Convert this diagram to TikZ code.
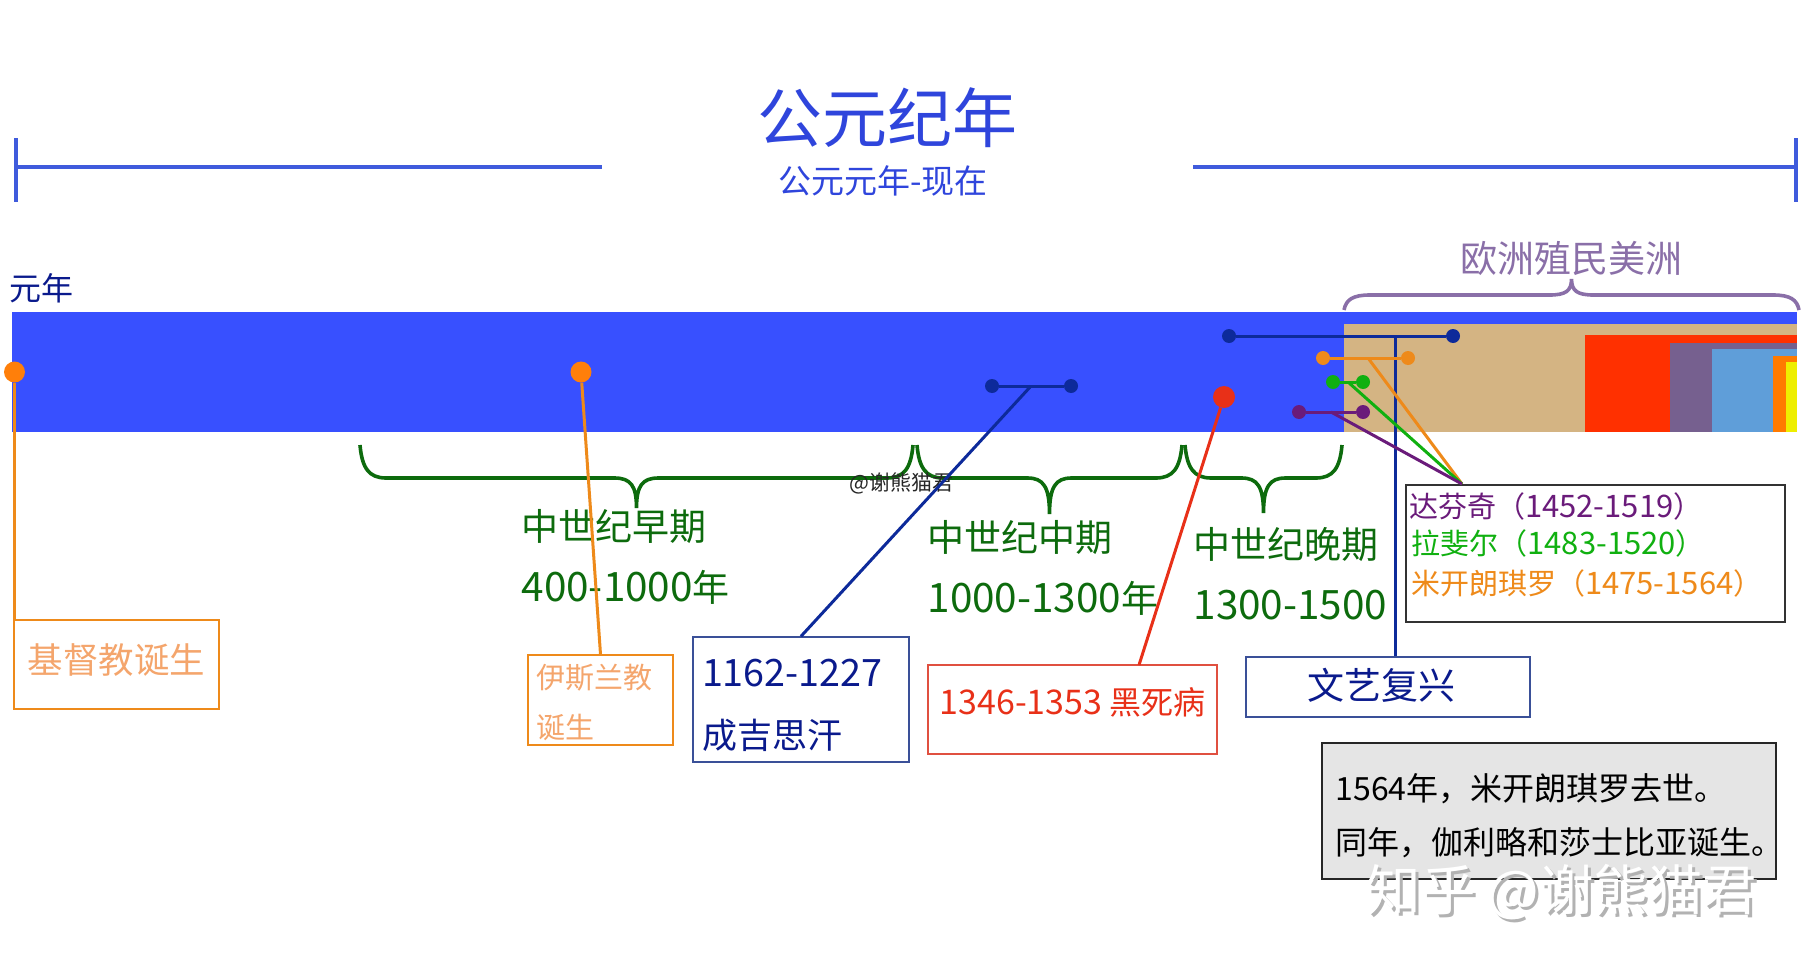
\documentclass[tikz,border=0pt]{standalone}
\usepackage{fontspec}
\setmainfont{Noto Sans CJK SC}
\definecolor{titleblue}{HTML}{2F45DC}
\definecolor{spanblue}{HTML}{3F5BDC}
\definecolor{barblue}{HTML}{3850FF}
\definecolor{navy}{HTML}{0A1A8C}
\definecolor{navybox}{HTML}{3A5098}
\definecolor{dotnavy}{HTML}{0D2A9A}
\definecolor{midgreen}{HTML}{0D6B0D}
\definecolor{leadorange}{HTML}{EE8A1A}
\definecolor{softorange}{HTML}{F4A56C}
\definecolor{dotorange}{HTML}{FF7F0A}
\definecolor{plague}{HTML}{E83018}
\definecolor{plaguebox}{HTML}{E05040}
\definecolor{tanblock}{HTML}{D4B483}
\definecolor{redblock}{HTML}{FF3000}
\definecolor{purpleblock}{HTML}{76608F}
\definecolor{blueblock}{HTML}{5F9ED9}
\definecolor{orangeblock}{HTML}{FF7A00}
\definecolor{yellowblock}{HTML}{EEEE00}
\definecolor{colony}{HTML}{8A6FA8}
\definecolor{vinci}{HTML}{6A1B7A}
\definecolor{raffa}{HTML}{10B010}
\tikzset{
  fs/.style={font=\fontsize{#1}{#1}\selectfont},
  dot/.style={circle,fill=#1,inner sep=0pt,minimum size=14pt},
  lead/.style={draw=#1,line width=3pt},
  era/.style={text=midgreen,anchor=west,align=left,font=\fontsize{37}{61}\selectfont},
  curly/.style={draw=#1,line width=3.6pt},
  span/.style={draw=spanblue,line width=4pt},
  tag/.style={draw=#1,line width=1.4pt,inner sep=0pt},
}
\newcommand{\nums}[2]{{\fontsize{#1}{#1}\selectfont #2}}
% x1, x2, ends, level, tip
\newcommand{\curlybrace}[5]{(#1,#3) .. controls ({#1+2},{#3+(#4-#3)*0.7}) and ({#1+9},#4) .. ({#1+26},#4) -- ({(#1+#2)/2-22},#4) .. controls ({(#1+#2)/2-6},#4) and ({(#1+#2)/2},{#4+(#5-#4)*0.25}) .. ({(#1+#2)/2},#5) .. controls ({(#1+#2)/2},{#4+(#5-#4)*0.25}) and ({(#1+#2)/2+6},#4) .. ({(#1+#2)/2+22},#4) -- ({#2-26},#4) .. controls ({#2-9},#4) and ({#2-2},{#3+(#4-#3)*0.7}) .. (#2,#3)}
\begin{document}
\begin{tikzpicture}[x=1pt,y=-1pt]
\useasboundingbox (0,0) rectangle (1803,966);

\node[fs=65,text=titleblue] (title) at (887,118) {公元纪年};
\node[fs=33,text=titleblue] (subtitle) at (883,181) {公元元年-现在};
\coordinate (spanl) at (15.5,167);
\coordinate (spanr) at (1796,167);
\coordinate (spanlend) at (602,167);
\coordinate (spanrstart) at (1193,167);
\draw[span] (spanl) -- (spanlend);
\draw[span] (spanrstart) -- (spanr);
\draw[span] (15.5,138) -- (15.5,202);
\draw[span] (1796,138) -- (1796,202);

\node[fs=32,text=navy,anchor=west] (yuannian) at (6,288) {元年};

\fill[barblue] (11.5,312) rectangle (1797,432);
\fill[tanblock] (1344,324) rectangle (1797,432);
\fill[redblock] (1585,335) rectangle (1797,432);
\fill[purpleblock] (1670,343) rectangle (1797,432);
\fill[blueblock] (1712,349) rectangle (1797,432);
\fill[orangeblock] (1773,356) rectangle (1797,432);
\fill[yellowblock] (1786,362) rectangle (1797,432);

\node[fs=37,text=colony] (meizhou) at (1571,258) {欧洲殖民美洲};
\draw[curly=colony] \curlybrace{1344}{1799}{310}{295}{279};

\node[era] (early) at (518,557) {中世纪早期\\\nums{40.5}{400-1000}年};
\node[era] (middle) at (924,568) {中世纪中期\\\nums{40.5}{1000-1300}年};
\node[era] (late) at (1190,574) {中世纪晚期\\\nums{40.5}{1300-1500}};
\draw[curly=midgreen] \curlybrace{360}{913}{445}{478}{508};
\draw[curly=midgreen] \curlybrace{917}{1182}{445}{478}{514};
\draw[curly=midgreen] \curlybrace{1185}{1342}{445}{478}{513};
\node[fs=21,text=black!85] (mark) at (901.5,483) {@谢熊猫君};

\node[tag=leadorange,fs=35.5,text=softorange,minimum width=205pt,minimum height=89pt,text depth=12pt] (jidubox) at (116.5,664.5) {基督教诞生};
\node[tag=leadorange,text=softorange,text width=129pt,inner xsep=8pt,minimum height=90pt,align=left,font=\fontsize{29}{50}\selectfont] (yisibox) at (600.5,700) {\rule{0pt}{30pt}伊斯兰教\\诞生};
\node[tag=navybox,text=navy,text width=198pt,inner xsep=9pt,minimum height=125pt,align=left,font=\fontsize{35}{62}\selectfont] (chengjibox) at (801,699.5) {\rule{0pt}{40pt}\nums{37.7}{1162-1227}\\成吉思汗};
\node[tag=plaguebox,fs=32,text=plague,minimum width=289pt,minimum height=89pt,text depth=16pt] (heisibox) at (1072.5,709.5) {\nums{34}{1346-1353} 黑死病};
\node[tag=navybox,fs=37,text=navy,text width=162pt,inner xsep=61pt,align=left,minimum height=60pt,text depth=7pt] (wenyibox) at (1388,687) {文艺复兴};
\node[tag=black!80,minimum width=379pt,minimum height=137pt] (painters) at (1595.5,553.5) {};
\node[fs=29,text=vinci,anchor=west] (davinci) at (1405.5,506) {达芬奇（\nums{31}{1452-1519}）};
\node[fs=29,text=raffa,anchor=west] (raphael) at (1408,543) {拉斐尔（\nums{31}{1483-1520}）};
\node[fs=29,text=leadorange,anchor=west] (michel) at (1407.5,583) {米开朗琪罗（\nums{31}{1475-1564}）};
\node[tag=black!85,fill=black!10,line width=2pt,minimum width=454pt,minimum height=136pt] (greybox) at (1549,811) {};
\node[text=black,anchor=west,align=left,font=\fontsize{32}{54}\selectfont] (deathyear) at (1332,816) {1564年，米开朗琪罗去世。\\同年，伽利略和莎士比亚诞生。};

\node[dot=dotorange,minimum size=21pt] (jidudot) at (14.5,372) {};
\node[dot=dotorange,minimum size=21pt] (yisidot) at (581,372) {};
\node[dot=dotnavy] (chengjia) at (992,386) {};
\node[dot=dotnavy] (chengjib) at (1071,386) {};
\node[dot=plague,minimum size=22pt] (heisidot) at (1224,397) {};
\node[dot=dotnavy] (wenyia) at (1229,336) {};
\node[dot=dotnavy] (wenyib) at (1453,336) {};
\node[dot=leadorange] (michela) at (1323,358) {};
\node[dot=leadorange] (michelb) at (1408,358) {};
\node[dot=raffa] (raffaa) at (1333,382) {};
\node[dot=raffa] (raffab) at (1363,382) {};
\node[dot=vinci] (vincia) at (1299,412) {};
\node[dot=vinci] (vincib) at (1363,412) {};

\coordinate (chengjimid) at (1031,386);
\coordinate (wenyimid) at (1395,336);
\coordinate (michelmid) at (1368,358);
\coordinate (raffamid) at (1348,382);
\coordinate (vincimid) at (1331,412);
\coordinate (paintertop) at (1462,484);
\coordinate (heisiend) at (1139,665);

\draw[lead=leadorange] (jidudot) -- (jidudot |- jidubox.north);
\draw[lead=leadorange] (yisidot) -- (yisibox.north);
\draw[lead=dotnavy] (chengjia) -- (chengjib);
\draw[lead=dotnavy] (chengjimid) -- (chengjibox.north);
\draw[lead=plague] (heisidot) -- (heisiend);
\draw[lead=dotnavy] (wenyia) -- (wenyib);
\draw[lead=dotnavy] (wenyimid) -- (wenyimid |- wenyibox.north);
\draw[lead=leadorange] (michela) -- (michelb);
\draw[lead=leadorange] (michelmid) -- (paintertop);
\draw[lead=raffa] (raffaa) -- (raffab);
\draw[lead=raffa] (raffamid) -- (paintertop);
\draw[lead=vinci] (vincia) -- (vincib);
\draw[lead=vinci] (vincimid) -- (paintertop);

\node[fs=54.5,text=black!30] (zhihushadow) at (1565,895) {知乎 @谢熊猫君};
\node[fs=54.5,text=white] (zhihu) at (1562,892) {知乎 @谢熊猫君};
\end{tikzpicture}
\end{document}
